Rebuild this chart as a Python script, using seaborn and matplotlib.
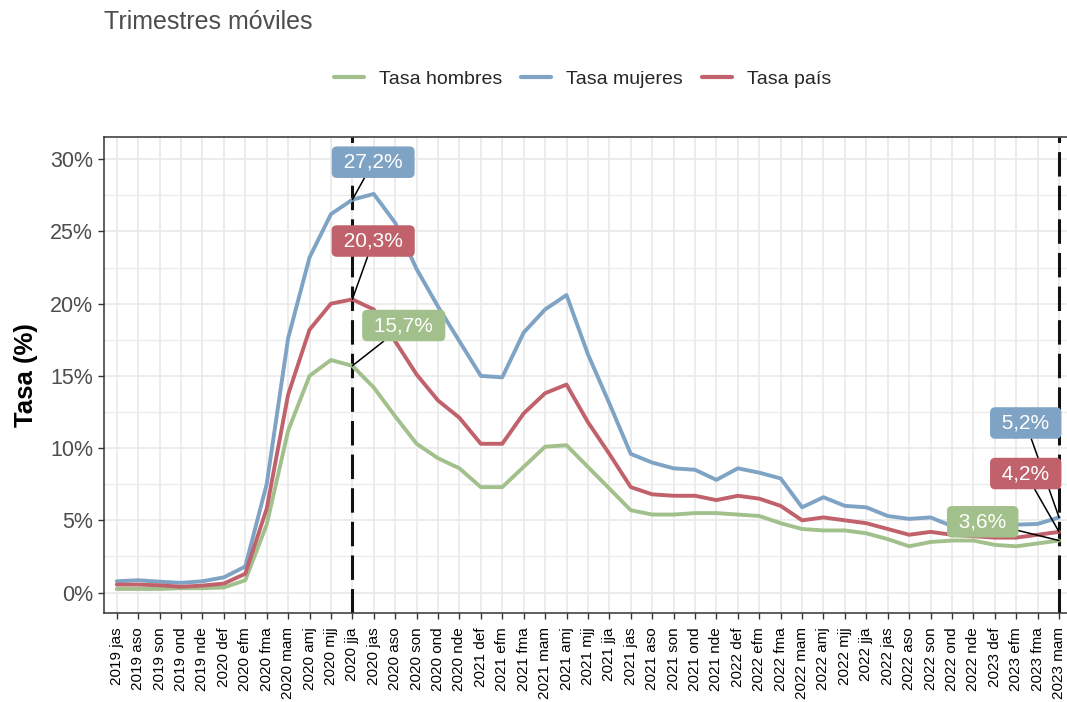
import numpy as np
import pandas as pd
import matplotlib
matplotlib.use("Agg")
import matplotlib.pyplot as plt
from matplotlib.ticker import MultipleLocator, FuncFormatter
import seaborn as sns

# Periodos (trimestres moviles)
periodos = [
    '2019 jas', '2019 aso', '2019 son', '2019 ond', '2019 nde',
    '2020 def', '2020 efm', '2020 fma', '2020 mam', '2020 amj', '2020 mjj',
    '2020 jja', '2020 jas', '2020 aso', '2020 son', '2020 ond', '2020 nde',
    '2021 def', '2021 efm', '2021 fma', '2021 mam', '2021 amj', '2021 mjj',
    '2021 jja', '2021 jas', '2021 aso', '2021 son', '2021 ond', '2021 nde',
    '2022 def', '2022 efm', '2022 fma', '2022 mam', '2022 amj', '2022 mjj',
    '2022 jja', '2022 jas', '2022 aso', '2022 son', '2022 ond', '2022 nde',
    '2023 def', '2023 efm', '2023 fma', '2023 mam',
]

# Tasas en %
tasa_hombres = [0.25, 0.25, 0.25, 0.3, 0.3, 0.35, 0.85, 4.7, 11.2, 15.0, 16.1,
                15.7, 14.2, 12.2, 10.3, 9.3, 8.6, 7.3, 7.3, 8.7, 10.1, 10.2,
                8.7, 7.2, 5.7, 5.4, 5.4, 5.5, 5.5, 5.4, 5.3, 4.8, 4.4, 4.3,
                4.3, 4.1, 3.7, 3.2, 3.5, 3.6, 3.6, 3.3, 3.2, 3.4, 3.6]
tasa_mujeres = [0.78, 0.85, 0.75, 0.67, 0.78, 1.05, 1.8, 7.5, 17.6, 23.2, 26.2,
                27.2, 27.6, 25.6, 22.4, 19.8, 17.4, 15.0, 14.9, 18.0, 19.6, 20.6,
                16.5, 13.1, 9.6, 9.0, 8.6, 8.5, 7.8, 8.6, 8.3, 7.9, 5.9, 6.6,
                6.0, 5.9, 5.3, 5.1, 5.2, 4.6, 4.6, 4.6, 4.7, 4.75, 5.2]
tasa_pais = [0.55, 0.55, 0.5, 0.4, 0.48, 0.62, 1.3, 5.8, 13.7, 18.2, 20.0,
             20.3, 19.6, 17.4, 15.1, 13.3, 12.1, 10.3, 10.3, 12.4, 13.8, 14.4,
             11.8, 9.6, 7.3, 6.8, 6.7, 6.7, 6.4, 6.7, 6.5, 6.0, 5.0, 5.2,
             5.0, 4.8, 4.4, 4.0, 4.2, 4.0, 3.9, 3.8, 3.8, 4.0, 4.2]

series = ['Tasa hombres', 'Tasa mujeres', 'Tasa país']
colores = {'Tasa hombres': '#A2C08B', 'Tasa mujeres': '#7FA3C4', 'Tasa país': '#C0616B'}

# periodos marcados con linea vertical y etiqueta
marcas = ['2020 jja', '2023 mam']

# desplazamiento de las etiquetas (puntos) respecto del dato
desplazamientos = {
    ('2020 jja', 'Tasa mujeres'): (15, 27),
    ('2020 jja', 'Tasa país'): (15, 42),
    ('2020 jja', 'Tasa hombres'): (37, 29),
    ('2023 mam', 'Tasa mujeres'): (-24, 68),
    ('2023 mam', 'Tasa país'): (-24, 42),
    ('2023 mam', 'Tasa hombres'): (-55, 13.5),
}

df = pd.DataFrame({'periodo': periodos,
                   'Tasa hombres': tasa_hombres,
                   'Tasa mujeres': tasa_mujeres,
                   'Tasa país': tasa_pais})
df['pos'] = np.arange(len(df))
largo = df.melt(id_vars=['periodo', 'pos'], value_vars=series,
                var_name='serie', value_name='tasa')

sns.set_theme(style='whitegrid')
plt.rcParams['font.family'] = ['Liberation Sans', 'DejaVu Sans']

fig = plt.figure(figsize=(10.67, 7.02), dpi=100)
ax = fig.add_axes([0.0978, 0.1261, 0.9068, 0.6783])

# lineas verticales
for m in marcas:
    ax.axvline(periodos.index(m), color='#111111', lw=2.2, ls=(0, (8, 3)), zorder=2)

sns.lineplot(data=largo, x='pos', y='tasa', hue='serie', hue_order=series,
             palette=colores, linewidth=2.8, estimator=None, ax=ax, zorder=3)

# etiquetas
for (m, s), (dx, dy) in desplazamientos.items():
    i = periodos.index(m)
    v = df.loc[i, s]
    txt = ' ' + f'{v:.1f}'.replace('.', ',') + '% '
    ax.annotate(txt, xy=(i, v), xytext=(dx, dy), textcoords='offset points',
                ha='center', va='center', fontsize=15, color='white', zorder=6,
                bbox=dict(boxstyle='round,pad=0.3,rounding_size=0.25',
                          fc=colores[s], ec='none'),
                arrowprops=dict(arrowstyle='-', color='black', lw=1.1,
                                shrinkA=0, shrinkB=0))

# ejes
ax.set_xlim(-0.58, len(periodos) - 1 + 0.6)
ax.set_ylim(-1.45, 31.52)
ax.set_xticks(df['pos'])
ax.set_xticklabels(periodos, rotation=90, fontsize=11, color='black')
ax.yaxis.set_major_locator(MultipleLocator(5))
ax.yaxis.set_minor_locator(MultipleLocator(2.5))
ax.yaxis.set_major_formatter(FuncFormatter(lambda v, p: f'{v:.0f}%'))
ax.tick_params(axis='y', labelsize=15.5, labelcolor='#4D4D4D', pad=4)
ax.tick_params(axis='x', pad=6)
ax.tick_params(axis='both', which='major', length=4, width=1, color='#333333',
               bottom=True, left=True)
ax.tick_params(which='minor', length=0)

ax.grid(which='major', color='#EBEBEB', lw=1.3)
ax.grid(which='minor', axis='y', color='#EBEBEB', lw=0.9)
ax.set_axisbelow(True)
for sp in ax.spines.values():
    sp.set_visible(True)
    sp.set_color('#333333')
    sp.set_linewidth(1.1)

ax.set_xlabel('')
ax.set_ylabel('Tasa (%)', fontsize=18.5, fontweight='bold', color='black')
ax.yaxis.label.set_va('center')
ax.yaxis.set_label_coords(-0.081, 0.5)

# leyenda arriba
handles, labels = ax.get_legend_handles_labels()
for h in handles:
    h.set_linewidth(3)
ax.legend(handles, labels, loc='center', bbox_to_anchor=(0.546, 0.887),
          bbox_transform=fig.transFigure, ncol=3, frameon=False, fontsize=14,
          handlelength=1.55, handletextpad=0.75, columnspacing=1.0)

fig.text(0.0978, 1 - 29.3 / 702, 'Trimestres móviles', ha='left', va='baseline',
         fontsize=18, color='#4D4D4D')

fig.savefig('out.png', dpi=100)
